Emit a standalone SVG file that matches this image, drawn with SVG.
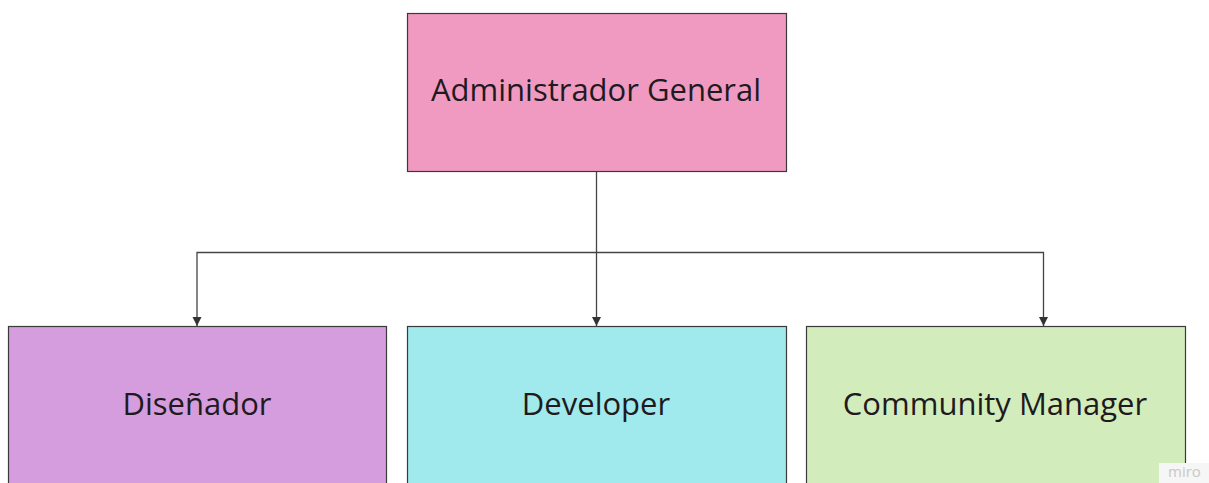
<svg xmlns="http://www.w3.org/2000/svg" width="1209" height="483" viewBox="0 0 1209 483">
<style>
.box{stroke:#3a3a3a;stroke-width:1.2}
.lbl{font-family:"Open Sans","Noto Sans",sans-serif;font-size:31px;fill:#1e1a20;text-anchor:middle}
.conn{stroke:#444;stroke-width:1.3;fill:none}
</style>
<defs>
<marker id="arr" viewBox="0 0 10 10" refX="10" refY="5" markerWidth="9" markerHeight="10" markerUnits="userSpaceOnUse" orient="auto">
<path d="M0,0 L10,5 L0,10 z" fill="#333"/>
</marker>
</defs>
<rect width="1209" height="483" fill="#ffffff"/>
<g id="connectors">
<line class="conn" x1="596.5" y1="172" x2="596.5" y2="326" marker-end="url(#arr)"/>
<polyline class="conn" points="596.5,252.5 197,252.5 197,326" marker-end="url(#arr)"/>
<polyline class="conn" points="596.5,252.5 1043.5,252.5 1043.5,326" marker-end="url(#arr)"/>
</g>
<g id="admin">
<rect class="box" x="407.5" y="13.5" width="379" height="158" fill="#f09ac2"/>
<text class="lbl" x="596" y="101">Administrador General</text>
</g>
<g id="disenador">
<rect class="box" x="8.5" y="326.5" width="378" height="170" fill="#d59dde"/>
<text class="lbl" x="197" y="415">Diseñador</text>
</g>
<g id="developer">
<rect class="box" x="407.5" y="326.5" width="379" height="170" fill="#a0e9ec"/>
<text class="lbl" x="596" y="415">Developer</text>
</g>
<g id="community">
<rect class="box" x="806.5" y="326.5" width="379" height="170" fill="#d2edbb"/>
<text class="lbl" x="995" y="415">Community Manager</text>
</g>
<g id="watermark">
<rect x="1159" y="463" width="50" height="20" fill="#f6f6f6"/>
<text x="1168" y="477" font-family="'Open Sans',sans-serif" font-size="15" fill="#c8c8c8">miro</text>
</g>
</svg>
